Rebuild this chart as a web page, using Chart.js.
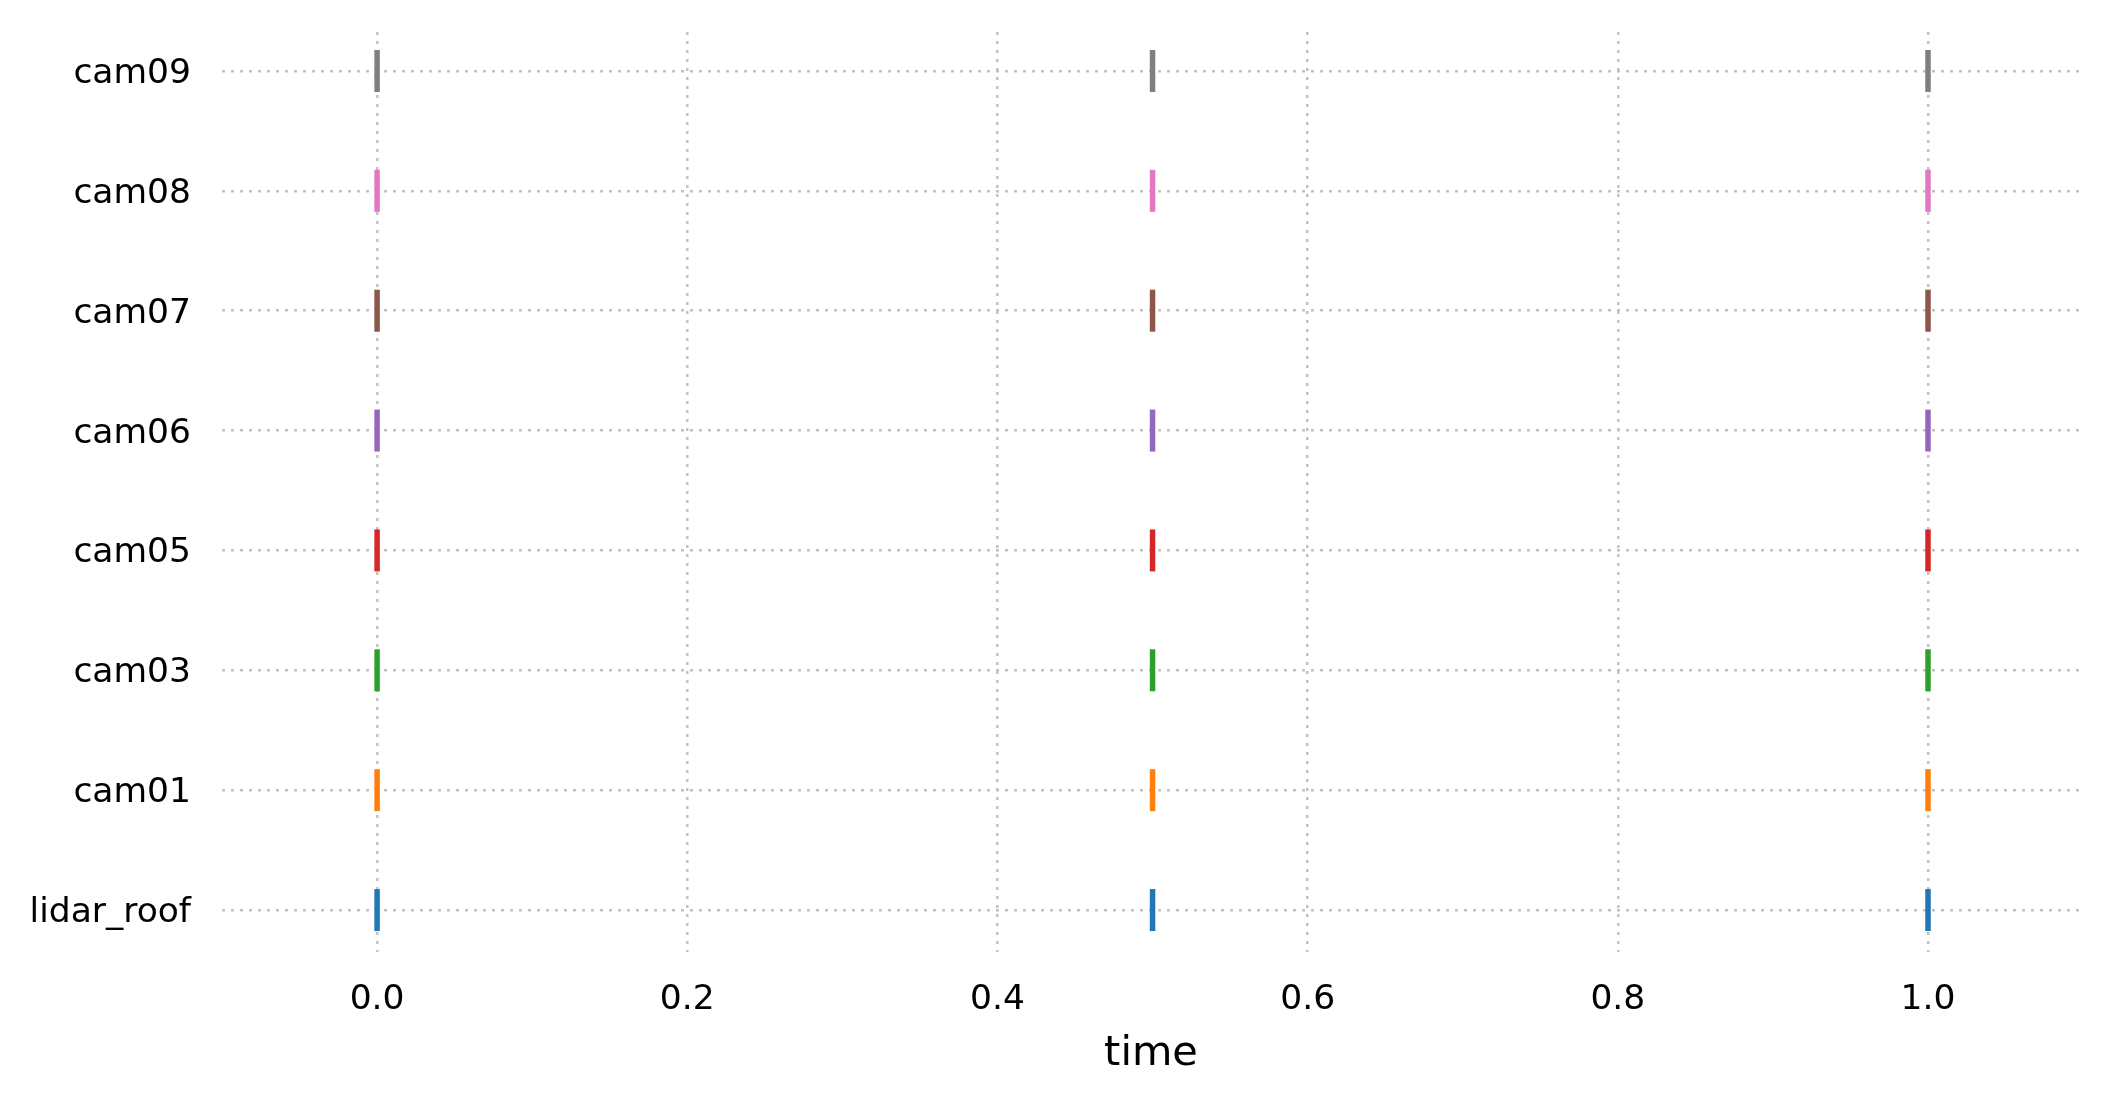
<!DOCTYPE html>
<html>
<head>
<meta charset="utf-8">
<script src="https://cdn.jsdelivr.net/npm/chart.js@4/dist/chart.umd.min.js"></script>
<style>
  html, body { margin: 0; padding: 0; background: #fff; }
  #wrap { width: 2111px; height: 1105px; }
</style>
</head>
<body>
<div id="wrap"><canvas id="sync-chart" width="2111" height="1105"></canvas></div>
<script>
// sensors, bottom to top
const sensors = ['lidar_roof', 'cam01', 'cam03', 'cam05', 'cam06', 'cam07', 'cam08', 'cam09'];

// frame timestamps per sensor
const lidarRoofTimes = [0.0, 0.5, 1.0];
const cam01Times = [0.0, 0.5, 1.0];
const cam03Times = [0.0, 0.5, 1.0];
const cam05Times = [0.0, 0.5, 1.0];
const cam06Times = [0.0, 0.5, 1.0];
const cam07Times = [0.0, 0.5, 1.0];
const cam08Times = [0.0, 0.5, 1.0];
const cam09Times = [0.0, 0.5, 1.0];

const timeTicks = [0.0, 0.2, 0.4, 0.6, 0.8, 1.0];

// tab10 colours
const palette = ['#1f77b4', '#ff7f0e', '#2ca02c', '#d62728', '#9467bd', '#8c564b', '#e377c2', '#7f7f7f'];

let series = [lidarRoofTimes, cam01Times, cam03Times, cam05Times, cam06Times, cam07Times, cam08Times, cam09Times];

let datasets = series.map((times, i) => ({
  label: sensors[i],
  data: times.map((t) => ({ x: t, y: i })),
  pointStyle: 'line',
  rotation: 90,
  pointRadius: 21,
  pointHoverRadius: 21,
  borderWidth: 5.5,
  borderColor: palette[i],
  backgroundColor: palette[i],
}));

const font = 'DejaVu Sans';
const gridColor = '#c2c2c2';

let context = document.querySelector('#sync-chart').getContext('2d');

let chart = new Chart(context, {
  type: 'scatter',
  data: { datasets: datasets },
  options: {
    responsive: false,
    animation: false,
    events: [],
    layout: { padding: { top: 32, right: 31, left: 0, bottom: 0 } },
    plugins: { legend: { display: false }, tooltip: { enabled: false } },
    scales: {
      x: {
        type: 'linear',
        min: -0.1,
        max: 1.098,
        z: 1,
        afterBuildTicks: (scale) => { scale.ticks = timeTicks.map((v) => ({ value: v })); },
        afterFit: (scale) => {
          scale.height = 153;
          scale.paddingLeft = 0;
          scale.paddingRight = 0;
        },
        grid: { color: gridColor, lineWidth: 2.5, drawTicks: false },
        border: { display: false, dash: [3, 6] },
        ticks: {
          padding: 27,
          color: '#000',
          font: { family: font, size: 34.5 },
          callback: (v) => v.toFixed(1),
        },
        title: {
          display: true,
          text: 'time',
          color: '#000',
          font: { family: font, size: 41.5 },
          padding: { top: 0, bottom: 26 },
        },
      },
      y: {
        type: 'linear',
        min: -0.35,
        max: 7.325,
        z: 1,
        afterBuildTicks: (scale) => { scale.ticks = sensors.map((s, i) => ({ value: i })); },
        afterFit: (scale) => {
          scale.width = 222;
          scale.paddingTop = 0;
          scale.paddingBottom = 0;
        },
        grid: { color: gridColor, lineWidth: 2.5, drawTicks: false },
        border: { display: false, dash: [3, 6] },
        ticks: {
          padding: 31,
          labelOffset: 3,
          color: '#000',
          font: { family: font, size: 34.5 },
          callback: (v) => sensors[v],
        },
      },
    },
  },
});
</script>
</body>
</html>
